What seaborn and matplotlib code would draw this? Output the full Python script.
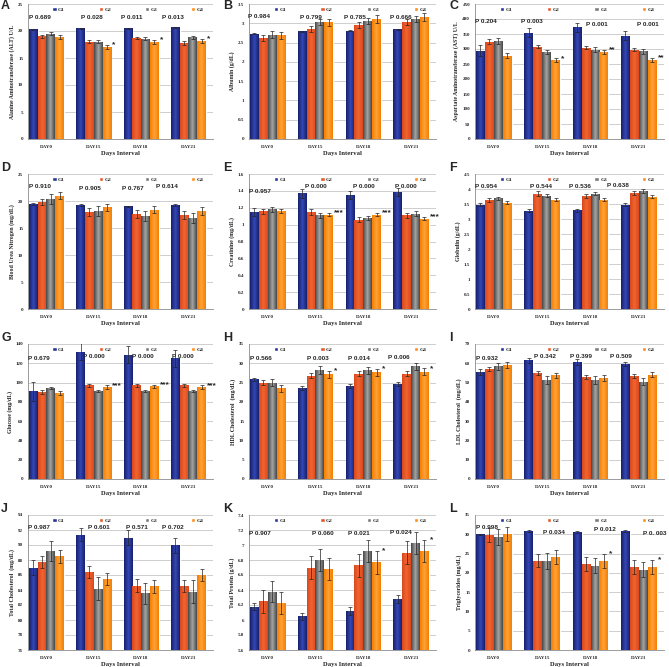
import numpy as np
import pandas as pd
import matplotlib.pyplot as plt
from matplotlib.colors import LinearSegmentedColormap
from matplotlib.ticker import MultipleLocator, FuncFormatter
import seaborn as sns

# categories
DAYS = ['DAY0', 'DAY15', 'DAY18', 'DAY21']
GROUPS = ['G1', 'G2', 'G3', 'G4']

# values: one row per day, columns G1..G4
ALT = [[20.3, 19.0, 19.5, 18.9], [20.5, 18.0, 18.0, 17.1], [20.5, 18.7, 18.6, 18.0], [20.7, 17.8, 18.8, 18.2]]
ALT_ERR = [[0.15, 0.3, 0.25, 0.4], [0.1, 0.3, 0.3, 0.35], [0.1, 0.25, 0.3, 0.35], [0.1, 0.3, 0.35, 0.35]]
ALT_P = ['P 0.689', 'P 0.028', 'P 0.011', 'P 0.013']
ALT_STARS = ['', '*', '*', '*']

ALB = [[2.73, 2.62, 2.70, 2.69], [2.79, 2.86, 3.04, 3.03], [2.81, 2.96, 3.07, 3.12], [2.84, 3.04, 3.12, 3.17]]
ALB_ERR = [[0.02, 0.08, 0.09, 0.09], [0.02, 0.08, 0.08, 0.09], [0.02, 0.08, 0.08, 0.1], [0.02, 0.08, 0.08, 0.1]]
ALB_P = ['P 0.984', 'P 0.799', 'P 0.785', 'P 0.666']
ALB_STARS = ['', '', '', '']

AST = [[295, 325, 327, 278], [355, 308, 290, 263], [372, 305, 298, 290], [345, 298, 292, 263]]
AST_ERR = [[18, 7, 9, 8], [16, 6, 8, 6], [15, 6, 9, 6], [14, 6, 8, 7]]
AST_P = ['P 0.204', 'P 0.003', 'P 0.001', 'P 0.001']
AST_STARS = ['', '*', '**', '**']

BUN = [[19.5, 19.8, 20.4, 21.0], [19.3, 18.0, 18.1, 18.8], [19.0, 17.6, 17.2, 18.4], [19.3, 17.4, 16.9, 18.1]]
BUN_ERR = [[0.2, 0.6, 0.9, 0.6], [0.15, 0.7, 0.9, 0.7], [0.15, 0.7, 0.9, 0.7], [0.15, 0.7, 0.9, 0.7]]
BUN_P = ['P 0.910', 'P 0.905', 'P 0.767', 'P 0.614']
BUN_STARS = ['', '', '', '']

CRE = [[1.15, 1.16, 1.18, 1.16], [1.37, 1.15, 1.11, 1.12], [1.35, 1.06, 1.08, 1.12], [1.39, 1.11, 1.13, 1.07]]
CRE_ERR = [[0.05, 0.03, 0.03, 0.02], [0.05, 0.03, 0.03, 0.02], [0.05, 0.03, 0.02, 0.02], [0.05, 0.03, 0.03, 0.02]]
CRE_P = ['P 0.957', 'P 0.000', 'P 0.000', 'P 0.000']
CRE_STARS = ['', '***', '***', '***']

GLO = [[3.47, 3.63, 3.70, 3.55], [3.27, 3.85, 3.78, 3.65], [3.30, 3.77, 3.85, 3.65], [3.47, 3.88, 3.93, 3.75]]
GLO_ERR = [[0.05, 0.07, 0.05, 0.05], [0.05, 0.07, 0.06, 0.06], [0.05, 0.07, 0.06, 0.06], [0.05, 0.07, 0.06, 0.06]]
GLO_P = ['P 0.954', 'P 0.544', 'P 0.536', 'P 0.638']
GLO_STARS = ['', '', '', '']

GLU = [[91, 90, 94, 89], [132, 97, 91, 95], [129, 97, 91, 96], [125, 97, 91, 95]]
GLU_ERR = [[10, 2, 1, 2], [9, 2, 1, 2], [9, 2, 1, 2], [9, 2, 1, 2]]
GLU_P = ['P 0.679', 'P 0.000', 'P 0.000', 'P 0.000']
GLU_STARS = ['', '***', '***', '***']

HDL = [[25.8, 25.0, 24.9, 23.5], [23.7, 26.8, 28.2, 27.2], [24.2, 27.3, 28.2, 27.7], [24.6, 27.3, 29.2, 27.8]]
HDL_ERR = [[0.5, 0.6, 0.9, 1.0], [0.5, 0.6, 1.0, 0.9], [0.5, 0.6, 0.9, 0.9], [0.5, 0.6, 0.9, 0.9]]
HDL_P = ['P 0.566', 'P 0.003', 'P 0.014', 'P 0.006']
HDL_STARS = ['', '*', '*', '*']

LDL = [[55.3, 57.0, 58.5, 59.0], [61.5, 55.0, 51.5, 53.7], [60.8, 53.0, 51.2, 52.3], [59.7, 53.3, 50.5, 54.0]]
LDL_ERR = [[1.5, 1.0, 1.8, 1.5], [1.5, 1.0, 2.0, 1.5], [1.5, 1.0, 2.0, 1.5], [1.2, 1.0, 2.0, 1.3]]
LDL_P = ['P 0.932', 'P 0.342', 'P 0.399', 'P 0.509']
LDL_STARS = ['', '', '', '']

TCH = [[87.0, 87.8, 89.2, 88.5], [91.4, 86.4, 84.2, 85.5], [91.0, 84.6, 83.6, 84.5], [90.0, 84.6, 83.8, 86.0]]
TCH_ERR = [[1.0, 0.8, 1.3, 0.9], [0.9, 0.8, 1.5, 0.8], [1.0, 0.9, 1.4, 0.9], [1.0, 0.8, 1.5, 0.8]]
TCH_P = ['P 0.987', 'P 0.601', 'P 0.571', 'P 0.702']
TCH_STARS = ['', '', '', '']

TPR = [[6.18, 6.25, 6.38, 6.23], [6.05, 6.70, 6.80, 6.68], [6.12, 6.73, 6.92, 6.77], [6.28, 6.90, 7.03, 6.92]]
TPR_ERR = [[0.05, 0.15, 0.14, 0.15], [0.05, 0.15, 0.15, 0.15], [0.05, 0.15, 0.15, 0.15], [0.05, 0.15, 0.15, 0.15]]
TPR_P = ['P 0.907', 'P 0.060', 'P 0.021', 'P 0.024']
TPR_STARS = ['', '', '*', '*']

TRG = [[30.0, 29.8, 29.3, 30.0], [30.8, 23.2, 23.1, 24.0], [30.6, 22.3, 21.9, 23.1], [30.8, 21.5, 20.8, 21.6]]
TRG_ERR = [[0.2, 1.8, 2.0, 1.8], [0.2, 1.8, 2.0, 1.8], [0.2, 1.9, 1.9, 1.8], [0.2, 1.8, 2.0, 1.8]]
TRG_P = ['P 0.998', 'P 0.034', 'P 0.012', 'P 0. 003']
TRG_STARS = ['', '', '*', '*']

# panel letter, y label, data, y range and tick step
panels = [
    ('A', 'Alanine Aminotransferase (ALT) U/L', ALT, ALT_ERR, ALT_P, ALT_STARS, (0, 25), 5),
    ('B', 'Albumin (g/dL)', ALB, ALB_ERR, ALB_P, ALB_STARS, (0, 3.5), 0.5),
    ('C', 'Aspartate Aminotransferase (AST) U/L', AST, AST_ERR, AST_P, AST_STARS, (0, 450), 50),
    ('D', 'Blood Urea Nitrogen (mg/dL)', BUN, BUN_ERR, BUN_P, BUN_STARS, (0, 25), 5),
    ('E', 'Creatinine (mg/dL)', CRE, CRE_ERR, CRE_P, CRE_STARS, (0, 1.6), 0.2),
    ('F', 'Globulin (g/dL)', GLO, GLO_ERR, GLO_P, GLO_STARS, (0, 4.5), 0.5),
    ('G', 'Glucose (mg/dL)', GLU, GLU_ERR, GLU_P, GLU_STARS, (0, 140), 20),
    ('H', 'HDL Cholesterol  (mg/dL)', HDL, HDL_ERR, HDL_P, HDL_STARS, (0, 35), 5),
    ('I', 'LDL Cholesterol  (mg/dL)', LDL, LDL_ERR, LDL_P, LDL_STARS, (0, 70), 10),
    ('J', 'Total Cholesterol  (mg/dL)', TCH, TCH_ERR, TCH_P, TCH_STARS, (76, 94), 2),
    ('K', 'Total Protein (g/dL)', TPR, TPR_ERR, TPR_P, TPR_STARS, (5.6, 7.4), 0.2),
    ('L', 'Triglycerides (mg/dL)', TRG, TRG_ERR, TRG_P, TRG_STARS, (0, 35), 5),
]

# where the P labels sit: x offset from group centre, y in axes fraction
P_DX = [[-0.37, -0.26, -0.43, -0.55], [-0.41, -0.33, -0.40, -0.44], [-0.38, -0.43, -0.10, -0.03],
        [-0.37, -0.31, -0.40, -0.68], [-0.40, -0.22, -0.21, -0.34], [-0.38, -0.25, -0.45, -0.65],
        [-0.38, -0.22, -0.20, -0.35], [-0.37, -0.17, -0.31, -0.49], [-0.36, -0.17, -0.42, -0.59],
        [-0.38, -0.13, -0.31, -0.56], [-0.38, -0.08, -0.33, -0.45], [-0.36, 0.01, 0.07, 0.09]]
P_Y = [[0.90] * 4, [0.91, 0.90, 0.90, 0.90], [0.87, 0.87, 0.85, 0.85],
       [0.91, 0.89, 0.89, 0.91], [0.87, 0.905, 0.905, 0.905], [0.91, 0.905, 0.905, 0.915],
       [0.89, 0.905, 0.905, 0.905], [0.89, 0.89, 0.89, 0.90], [0.89, 0.905, 0.905, 0.905],
       [0.905] * 4, [0.86, 0.86, 0.86, 0.87], [0.91, 0.87, 0.89, 0.86]]

# bar colours: edge shade, centre shade
SHADES = [('#17216A', '#3447B8'), ('#D9481E', '#F2652F'), ('#474747', '#A5A5A5'), ('#F47E00', '#FFA23A')]
FLAT = ['#26359A', '#E8562A', '#7A7A7A', '#FF8C14']
SERIF = 'Liberation Serif'
SANS = 'Liberation Sans'

sns.set_style('white')
plt.rcParams['font.family'] = [SERIF, 'DejaVu Serif']

W, H = 669, 667
fig = plt.figure(figsize=(W / 100, H / 100), dpi=100)
col_left = [28, 249, 475]
col_width = [185, 187, 189]
row_top = [4, 174, 344, 515]
ax_h = 135

cmaps = [LinearSegmentedColormap.from_list(f'g{i}', [e, c, e]) for i, (e, c) in enumerate(SHADES)]
fmt = FuncFormatter(lambda v, _: f'{v:g}')

for n, (letter, ylabel, vals, errs, pvals, stars, ylim, step) in enumerate(panels):
    r, c = divmod(n, 3)
    left = col_left[c] / W
    bottom = 1 - (row_top[r] + ax_h) / H
    ax = fig.add_axes([left, bottom, col_width[c] / W, ax_h / H])

    df = pd.DataFrame([(d, g, vals[i][j]) for i, d in enumerate(DAYS) for j, g in enumerate(GROUPS)],
                      columns=['day', 'group', 'value'])
    sns.barplot(data=df, x='day', y='value', hue='group', order=DAYS, hue_order=GROUPS,
                palette=FLAT, saturation=1, width=0.74, errorbar=None, ax=ax, legend=True)

    bar_sets = list(ax.containers)
    for j, cont in enumerate(bar_sets):
        xs, ys = [], []
        for i, bar in enumerate(cont):
            x0, w, h = bar.get_x(), bar.get_width(), bar.get_height()
            y0 = max(bar.get_y(), ylim[0])
            im = ax.imshow(np.linspace(0, 1, 64).reshape(1, -1), extent=[x0, x0 + w, y0, h],
                           aspect='auto', cmap=cmaps[j], zorder=1.5)
            im.set_clip_path(bar)
            xs.append(x0 + w / 2)
            ys.append(h)
        ax.errorbar(xs, ys, yerr=[errs[i][j] for i in range(4)], fmt='none', ecolor='#222222',
                    elinewidth=0.5, capsize=1.2, capthick=0.5, zorder=3)
        if j == 3:
            for i, bar in enumerate(cont):
                if stars[i]:
                    ax.text(bar.get_x() + bar.get_width() + 0.02, ys[i] + errs[i][j], stars[i],
                            fontsize=6, fontweight='bold', ha='left', va='center',
                            family=[SANS, 'DejaVu Sans'], zorder=4)

    for i, p in enumerate(pvals):
        ax.text(i + P_DX[n][i], P_Y[n][i], p, transform=ax.get_xaxis_transform(),
                fontsize=4.6, fontweight='bold', ha='left', va='center', family=[SANS, 'DejaVu Sans'])

    ax.set_xlim(-0.39, 3.52)
    ax.set_ylim(*ylim)
    ax.yaxis.set_major_locator(MultipleLocator(step))
    ax.yaxis.set_major_formatter(fmt)
    ax.yaxis.grid(True, color='#c6c6c6', lw=0.6)
    ax.set_axisbelow(True)
    for s in ['top', 'right']:
        ax.spines[s].set_visible(False)
    for s in ['left', 'bottom']:
        ax.spines[s].set_color('#8a8a8a')
        ax.spines[s].set_linewidth(0.6)
    ax.tick_params(axis='y', labelsize=3.6, length=2, width=0.5, color='#8a8a8a', pad=1.5)
    ax.tick_params(axis='x', labelsize=3.6, length=0, pad=4)
    ax.set_xticks([0.5, 1.5, 2.5], minor=True)
    ax.tick_params(axis='x', which='minor', length=2, width=0.5, color='#8a8a8a')
    for lab in ax.get_xticklabels() + ax.get_yticklabels():
        lab.set_fontweight('bold')
    ax.set_xlabel('Days Interval', fontsize=4.8, fontweight='bold', labelpad=2)
    ax.set_ylabel(ylabel, fontsize=4.2, fontweight='bold', labelpad=2)

    handles, _ = ax.get_legend_handles_labels()
    ax.legend(handles[:4], GROUPS, loc='upper left', bbox_to_anchor=(0.12, 0.99, 0.84, 0.0),
              mode='expand', ncol=4, frameon=False, handlelength=0.8, handleheight=0.8,
              handletextpad=0.3, borderaxespad=0, prop={'family': SERIF, 'weight': 'bold', 'size': 3.8})

    fig.text((col_left[c] - 27 if c == 0 else col_left[c] - 26) / W, 1 - max(0, row_top[r] - 12) / H,
             letter, fontsize=9, fontweight='bold', family=[SANS, 'DejaVu Sans'], ha='left', va='top')

fig.savefig('out.png', dpi=100, facecolor='white')
